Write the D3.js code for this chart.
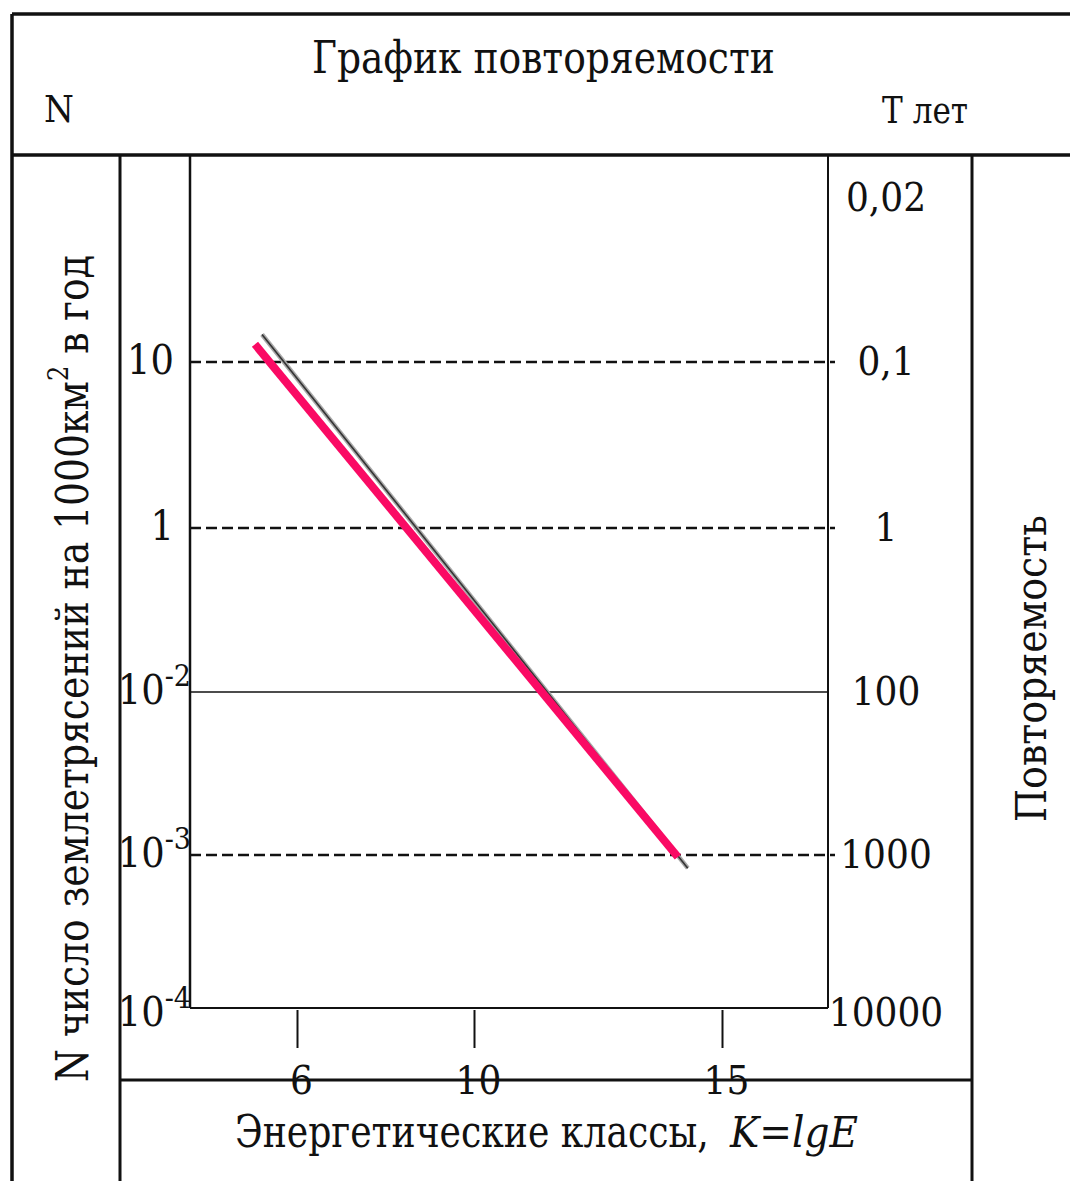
<!DOCTYPE html>
<html>
<head>
<meta charset="utf-8">
<script src="https://cdn.jsdelivr.net/npm/d3@7"></script>
<style>
  html, body { margin: 0; padding: 0; background: #fff; }
  svg { display: block; }
  text { font-family: "DejaVu Serif Condensed", "DejaVu Serif", serif; font-stretch: condensed; fill: #111; }
</style>
</head>
<body>
<script>
// энергетические классы K (нижняя ось)
const kTicks = [6, 10, 15];
// N, число землетрясений на 1000 км² в год (левая ось)
const nTicks = [10, 1, 1e-2, 1e-3, 1e-4];
const nLabels = [["10", ""], ["1", ""], ["10", "-2"], ["10", "-3"], ["10", "-4"]];
// T, лет (правая ось)
const tTicks = [0.02, 0.1, 1, 100, 1000, 10000];
const tLabels = ["0,02", "0,1", "1", "100", "1000", "10000"];
// линии графика повторяемости (K, N)
const redK = [5.05, 14.11];
const redN = [11.9, 0.00097];
const greyK = [5.21, 14.31];
const greyN = [13.1, 0.00082];

const W = 1070, H = 1181;
const plotL = 190, plotR = 828, plotT = 155, plotB = 1008;

let svg = d3.select("body").append("svg")
    .attr("width", W)
    .attr("height", H);

svg.append("rect")
    .attr("width", W)
    .attr("height", H)
    .attr("fill", "#fff");

// шкалы (схематичные, кусочно-линейные как на рисунке)
let x = d3.scaleLinear()
    .domain(kTicks)
    .range([297, 474, 722]);
let y = d3.scaleLinear()
    .domain(tTicks.map(t => -Math.log10(t)))
    .range([198, 362, 528, 692, 855, 1008]);
let yN = n => y(Math.log10(n));
let yT = t => y(-Math.log10(t));

// рамка таблицы
let frame = svg.append("g")
    .attr("stroke", "#111")
    .attr("fill", "none");
frame.append("line").attr("x1", 12).attr("y1", 14).attr("x2", W).attr("y2", 14).attr("stroke-width", 3.5);
frame.append("line").attr("x1", 12).attr("y1", 14).attr("x2", 12).attr("y2", H).attr("stroke-width", 3.5);
frame.append("line").attr("x1", 12).attr("y1", plotT).attr("x2", W).attr("y2", plotT).attr("stroke-width", 3.5);
frame.append("line").attr("x1", 120).attr("y1", plotT).attr("x2", 120).attr("y2", H).attr("stroke-width", 3);
frame.append("line").attr("x1", 972).attr("y1", plotT).attr("x2", 972).attr("y2", H).attr("stroke-width", 3);
frame.append("line").attr("x1", 120).attr("y1", 1080).attr("x2", 972).attr("y2", 1080).attr("stroke-width", 3);

// область графика
frame.append("line").attr("x1", plotL).attr("y1", plotT).attr("x2", plotL).attr("y2", plotB).attr("stroke-width", 2.5);
frame.append("line").attr("x1", plotR).attr("y1", plotT).attr("x2", plotR).attr("y2", plotB).attr("stroke-width", 2);
frame.append("line").attr("x1", plotL).attr("y1", plotB).attr("x2", plotR).attr("y2", plotB).attr("stroke-width", 2);

// горизонтальные линии уровней
svg.append("g")
    .selectAll("line")
    .data(nTicks.filter(d => d > 1e-4))
    .join("line")
    .attr("x1", plotL)
    .attr("x2", d => d === 1e-2 ? plotR : plotR + 7)
    .attr("y1", d => yN(d))
    .attr("y2", d => yN(d))
    .attr("stroke", "#111")
    .attr("stroke-width", d => d === 1e-2 ? 1.5 : 2.5)
    .attr("stroke-dasharray", d => d === 1e-2 ? null : "11,5");

// нижняя ось K
svg.append("defs").append("clipPath")
    .attr("id", "above")
    .append("rect")
    .attr("x", 0).attr("y", 0).attr("width", W).attr("height", 1079);

let xAxis = svg.append("g")
    .attr("transform", `translate(0,${plotB + 2})`)
    .attr("clip-path", "url(#above)")
    .call(d3.axisBottom(x).tickValues(kTicks).tickSize(38).tickFormat(d3.format("d")));
xAxis.select(".domain").remove();
xAxis.selectAll(".tick line")
    .attr("stroke", "#111")
    .attr("stroke-width", 2);
xAxis.selectAll(".tick text")
    .attr("y", 84)
    .attr("dy", null)
    .attr("dx", 4)
    .attr("fill", "#111")
    .style("font-family", '"DejaVu Serif Condensed", "DejaVu Serif", serif')
    .style("font-stretch", "condensed")
    .style("font-size", "40px");

// левая ось N
let left = svg.append("g")
    .selectAll("text")
    .data(nTicks)
    .join("text")
    .attr("x", (d, i) => nLabels[i][1] ? 191 : 174)
    .attr("y", d => yN(d) + (d < 1e-3 ? 18 : 12))
    .attr("text-anchor", "end")
    .style("font-size", "41px");
left.append("tspan")
    .text((d, i) => nLabels[i][0]);
left.append("tspan")
    .attr("dy", -18)
    .style("font-size", "30px")
    .text((d, i) => nLabels[i][1]);

// правая ось T
svg.append("g")
    .selectAll("text")
    .data(tTicks)
    .join("text")
    .attr("x", 886)
    .attr("y", d => yT(d) + (d > 1000 ? 18 : 13))
    .attr("text-anchor", "middle")
    .style("font-size", "40px")
    .text((d, i) => tLabels[i]);

// линии графика
let line = d3.line()
    .x(d => x(d[0]))
    .y(d => yN(d[1]));

let greyPts = d3.zip(greyK, greyN);
svg.append("path")
    .datum(greyPts)
    .attr("d", line)
    .attr("fill", "none")
    .attr("stroke", "#a8a8a8")
    .attr("stroke-width", 4.5);
svg.append("path")
    .datum(greyPts)
    .attr("d", line)
    .attr("fill", "none")
    .attr("stroke", "#333")
    .attr("stroke-width", 1.6);

svg.append("path")
    .datum(d3.zip(redK, redN))
    .attr("d", line)
    .attr("fill", "none")
    .attr("stroke", "#fa0a64")
    .attr("stroke-width", 8);

// текст, растянутый/сжатый до нужной ширины
function fitText(str, px, py, width, size, rot) {
    let t = svg.append("text")
        .style("font-size", `${size}px`)
        .text(str);
    let natural = t.node().getComputedTextLength();
    let k = width / natural;
    t.attr("transform", `translate(${px},${py})` + (rot ? ` rotate(${rot})` : "") + ` scale(${k},1)`);
    return t;
}

// подписи
fitText("График повторяемости", 312, 73, 463, 44);

svg.append("text")
    .attr("x", 44)
    .attr("y", 122)
    .style("font-size", "38px")
    .text("N");

fitText("Т лет", 882, 123, 86, 38);

let yLabel = svg.append("text")
    .attr("transform", "translate(88,1082) rotate(-90)")
    .attr("textLength", 827)
    .attr("lengthAdjust", "spacingAndGlyphs")
    .style("font-size", "44px");
yLabel.append("tspan").text("N число землетрясений на 1000км");
yLabel.append("tspan").attr("dy", -20).style("font-size", "28px").text("2");
yLabel.append("tspan").attr("dy", 20).text(" в год");

fitText("Повторяемость", 1046, 822, 307, 42, -90);

// подпись оси K: обычный текст и формула курсивом
fitText("Энергетические классы,", 235, 1147, 474, 44);
fitText("K=lgE", 730, 1147, 128, 42)
    .style("font-style", "italic");
</script>
</body>
</html>
